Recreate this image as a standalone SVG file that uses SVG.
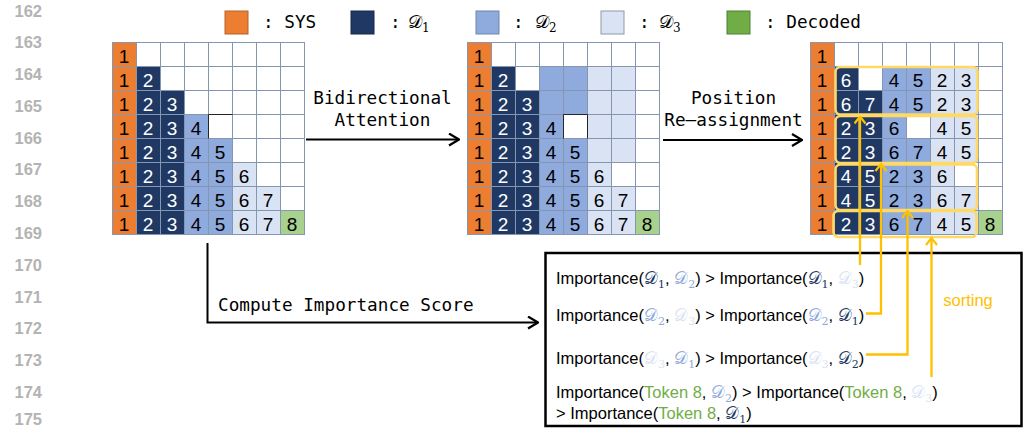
<svg xmlns="http://www.w3.org/2000/svg" xmlns:xlink="http://www.w3.org/1999/xlink" width="1027" height="429" viewBox="0 0 1027 429">
  <style>
    .ln { font-family: "Liberation Sans", Arial, sans-serif; font-weight: bold; font-size: 16.5px; fill: #b3b3b3; text-anchor: end; }
    .mono { font-family: "DejaVu Sans Mono", "Liberation Mono", monospace; font-size: 17.7px; fill: #000; }
    .cal { font-family: "DejaVu Serif", "DejaVu Sans", "Noto Sans", serif; }
    .sb { font-family: "DejaVu Serif", "Liberation Serif", serif; }
    .dg { font-family: "Liberation Sans", Arial, sans-serif; font-size: 19px; text-anchor: middle; fill: #000; }
    .tw { fill: #fff; }
    .o { fill: #ED7D31; }
    .n { fill: #203864; }
    .m { fill: #8FAADC; }
    .l { fill: #DAE3F3; }
    .g { fill: #A9D18E; }
    .gl { fill: none; stroke: #8596b0; stroke-width: 1; }
    .edge { fill: none; stroke: #262626; stroke-width: 1; }
    .grp { fill: none; stroke: #FFD966; stroke-width: 2.6; }
    .imp { font-family: "Liberation Sans", Arial, sans-serif; font-size: 16.5px; fill: #000; }
    .d1 { fill: #203864; }
    .d2 { fill: #8FAADC; }
    .d3 { fill: #DAE3F3; }
    .tok { fill: #70AD47; }
    .arr { fill: none; stroke: #000; stroke-width: 2; }
    .yarr { fill: none; stroke: #FFC000; stroke-width: 2.3; }
  </style>
  <defs>
    <marker id="ah" viewBox="0 0 12 14" refX="11" refY="7" markerWidth="12" markerHeight="14" markerUnits="userSpaceOnUse" orient="auto">
      <path d="M1,1 L11,7 L1,13" fill="none" stroke="#000" stroke-width="2.2"/>
    </marker>
    <marker id="yah" viewBox="0 0 9 13" refX="8" refY="6.5" markerWidth="9" markerHeight="13" markerUnits="userSpaceOnUse" orient="auto">
      <path d="M1,1 L8,6.5 L1,12" fill="none" stroke="#FFC000" stroke-width="2.2"/>
    </marker>
    <path id="gridlines" class="gl" d="M0 .5H193M0 24.5H193M0 48.5H193M0 72.5H193M0 96.5H193M0 120.5H193M0 144.5H193M0 168.5H193M0 192.5H193M.5 0V193M24.5 0V193M48.5 0V193M72.5 0V193M96.5 0V193M120.5 0V193M144.5 0V193M168.5 0V193M192.5 0V193"/>
  </defs>

  <rect width="1027" height="429" fill="#fff"/>

  <!-- line numbers -->
  <g id="line-numbers">
    <text class="ln" x="42" y="17">162</text>
    <text class="ln" x="42" y="48">163</text>
    <text class="ln" x="42" y="80">164</text>
    <text class="ln" x="42" y="112">165</text>
    <text class="ln" x="42" y="143.5">166</text>
    <text class="ln" x="42" y="175">167</text>
    <text class="ln" x="42" y="207">168</text>
    <text class="ln" x="42" y="239">169</text>
    <text class="ln" x="42" y="270.5">170</text>
    <text class="ln" x="42" y="302.5">171</text>
    <text class="ln" x="42" y="334">172</text>
    <text class="ln" x="42" y="366">173</text>
    <text class="ln" x="42" y="398">174</text>
    <text class="ln" x="42" y="425">175</text>
  </g>

  <!-- legend -->
  <g id="legend">
    <rect x="225" y="11" width="23" height="23" class="o" stroke="#B4642A" stroke-width="1"/>
    <text class="mono" x="263" y="28">: SYS</text>
    <rect x="351" y="11" width="23" height="23" class="n" stroke="#16284a" stroke-width="1"/>
    <text class="mono" x="390" y="28">:</text>
    <text class="cal" x="408" y="28" font-size="18">𝒟<tspan class="sb" font-size="12" dy="3.5">1</tspan></text>
    <rect x="476" y="11" width="23" height="23" class="m" stroke="#6f86b0" stroke-width="1"/>
    <text class="mono" x="513" y="28">:</text>
    <text class="cal" x="535" y="28" font-size="18">𝒟<tspan class="sb" font-size="12" dy="3.5">2</tspan></text>
    <rect x="601" y="11" width="23" height="23" class="l" stroke="#8f9aa8" stroke-width="1"/>
    <text class="mono" x="639" y="28">:</text>
    <text class="cal" x="659" y="28" font-size="18">𝒟<tspan class="sb" font-size="12" dy="3.5">3</tspan></text>
    <rect x="727" y="11" width="23" height="23" fill="#70AD47" stroke="#507e36" stroke-width="1"/>
    <text class="mono" x="765" y="28">: Decoded</text>
  </g>

  <!-- causal attention grid -->
  <g id="grid-causal" transform="translate(112,42)">
    <rect width="192" height="192" fill="#fff"/>
    <rect class="o" x="0" y="0" width="24" height="192"/>
    <rect class="n" x="24" y="24" width="24" height="168"/>
    <rect class="n" x="48" y="48" width="24" height="144"/>
    <rect class="m" x="72" y="72" width="24" height="120"/>
    <rect class="m" x="96" y="96" width="24" height="96"/>
    <rect class="l" x="120" y="120" width="24" height="72"/>
    <rect class="l" x="144" y="144" width="24" height="48"/>
    <rect class="g" x="168" y="168" width="24" height="24"/>
    <use xlink:href="#gridlines"/>
    <path class="edge" d="M96.5,96.5 V72.5 H120.5"/>
    <text class="dg" y="20.5"><tspan x="12">1</tspan></text>
    <text class="dg" y="44.5"><tspan x="12">1</tspan><tspan class="tw" x="36">2</tspan></text>
    <text class="dg" y="68.5"><tspan x="12">1</tspan><tspan class="tw" x="36 60">23</tspan></text>
    <text class="dg" y="92.5"><tspan x="12">1</tspan><tspan class="tw" x="36 60">23</tspan><tspan x="84">4</tspan></text>
    <text class="dg" y="116.5"><tspan x="12">1</tspan><tspan class="tw" x="36 60">23</tspan><tspan x="84 108">45</tspan></text>
    <text class="dg" y="140.5"><tspan x="12">1</tspan><tspan class="tw" x="36 60">23</tspan><tspan x="84 108 132">456</tspan></text>
    <text class="dg" y="164.5"><tspan x="12">1</tspan><tspan class="tw" x="36 60">23</tspan><tspan x="84 108 132 156">4567</tspan></text>
    <text class="dg" y="188.5"><tspan x="12">1</tspan><tspan class="tw" x="36 60">23</tspan><tspan x="84 108 132 156 180">45678</tspan></text>
  </g>

  <!-- bidirectional attention grid -->
  <g id="grid-bidirectional" transform="translate(467,42)">
    <rect width="192" height="192" fill="#fff"/>
    <rect class="o" x="0" y="0" width="24" height="192"/>
    <rect class="n" x="24" y="24" width="24" height="168"/>
    <rect class="n" x="48" y="48" width="24" height="144"/>
    <rect class="m" x="72" y="24" width="24" height="168"/>
    <rect class="m" x="96" y="24" width="24" height="48"/>
    <rect class="m" x="96" y="96" width="24" height="96"/>
    <rect class="l" x="120" y="24" width="24" height="168"/>
    <rect class="l" x="144" y="24" width="24" height="96"/>
    <rect class="l" x="144" y="144" width="24" height="48"/>
    <rect class="g" x="168" y="168" width="24" height="24"/>
    <use xlink:href="#gridlines"/>
    <path class="edge" d="M96.5,96.5 V72.5 H120.5 V96.5"/>
    <text class="dg" y="20.5"><tspan x="12">1</tspan></text>
    <text class="dg" y="44.5"><tspan x="12">1</tspan><tspan class="tw" x="36">2</tspan></text>
    <text class="dg" y="68.5"><tspan x="12">1</tspan><tspan class="tw" x="36 60">23</tspan></text>
    <text class="dg" y="92.5"><tspan x="12">1</tspan><tspan class="tw" x="36 60">23</tspan><tspan x="84">4</tspan></text>
    <text class="dg" y="116.5"><tspan x="12">1</tspan><tspan class="tw" x="36 60">23</tspan><tspan x="84 108">45</tspan></text>
    <text class="dg" y="140.5"><tspan x="12">1</tspan><tspan class="tw" x="36 60">23</tspan><tspan x="84 108 132">456</tspan></text>
    <text class="dg" y="164.5"><tspan x="12">1</tspan><tspan class="tw" x="36 60">23</tspan><tspan x="84 108 132 156">4567</tspan></text>
    <text class="dg" y="188.5"><tspan x="12">1</tspan><tspan class="tw" x="36 60">23</tspan><tspan x="84 108 132 156 180">45678</tspan></text>
  </g>

  <!-- re-assigned positions grid -->
  <g id="grid-reassigned" transform="translate(810,42)">
    <rect width="192" height="192" fill="#fff"/>
    <rect class="o" x="0" y="0" width="24" height="192"/>
    <rect class="n" x="24" y="24" width="24" height="168"/>
    <rect class="n" x="48" y="48" width="24" height="144"/>
    <rect class="m" x="72" y="24" width="24" height="168"/>
    <rect class="m" x="96" y="24" width="24" height="48"/>
    <rect class="m" x="96" y="96" width="24" height="96"/>
    <rect class="l" x="120" y="24" width="24" height="168"/>
    <rect class="l" x="144" y="24" width="24" height="96"/>
    <rect class="l" x="144" y="144" width="24" height="48"/>
    <rect class="g" x="168" y="168" width="24" height="24"/>
    <use xlink:href="#gridlines"/>
    <text class="dg" y="20.5"><tspan x="12">1</tspan></text>
    <text class="dg" y="44.5"><tspan x="12">1</tspan><tspan class="tw" x="36">6</tspan><tspan x="84 108 132 156">4523</tspan></text>
    <text class="dg" y="68.5"><tspan x="12">1</tspan><tspan class="tw" x="36 60">67</tspan><tspan x="84 108 132 156">4523</tspan></text>
    <text class="dg" y="92.5"><tspan x="12">1</tspan><tspan class="tw" x="36 60">23</tspan><tspan x="84 132 156">645</tspan></text>
    <text class="dg" y="116.5"><tspan x="12">1</tspan><tspan class="tw" x="36 60">23</tspan><tspan x="84 108 132 156">6745</tspan></text>
    <text class="dg" y="140.5"><tspan x="12">1</tspan><tspan class="tw" x="36 60">45</tspan><tspan x="84 108 132">236</tspan></text>
    <text class="dg" y="164.5"><tspan x="12">1</tspan><tspan class="tw" x="36 60">45</tspan><tspan x="84 108 132 156">2367</tspan></text>
    <text class="dg" y="188.5"><tspan x="12">1</tspan><tspan class="tw" x="36 60">23</tspan><tspan x="84 108 132 156 180">67458</tspan></text>
    <!-- sorted groups -->
    <rect class="grp" x="25.5" y="25" width="142" height="47.5" rx="5"/>
    <rect class="grp" x="25.5" y="74" width="141.5" height="47" rx="5"/>
    <rect class="grp" x="25.5" y="122.5" width="141.5" height="45.5" rx="5"/>
    <rect class="grp" x="23.5" y="169" width="143" height="26" rx="5"/>
  </g>

  <!-- importance score box -->
  <g id="importance-box">
    <rect x="545.5" y="253" width="476" height="173" fill="#fff" stroke="#000" stroke-width="2.5"/>
    <text class="imp" x="556" y="284">Importance(<tspan class="cal d1">𝒟</tspan><tspan class="sb d1" font-size="11" dy="3.5">1</tspan><tspan dy="-3.5">, </tspan><tspan class="cal d2">𝒟</tspan><tspan class="sb d2" font-size="11" dy="3.5">2</tspan><tspan dy="-3.5">) &gt; Importance(</tspan><tspan class="cal d1">𝒟</tspan><tspan class="sb d1" font-size="11" dy="3.5">1</tspan><tspan dy="-3.5">, </tspan><tspan class="cal d3">𝒟</tspan><tspan class="sb d3" font-size="11" dy="3.5">3</tspan><tspan dy="-3.5">)</tspan></text>
    <text class="imp" x="556" y="321">Importance(<tspan class="cal d2">𝒟</tspan><tspan class="sb d2" font-size="11" dy="3.5">2</tspan><tspan dy="-3.5">, </tspan><tspan class="cal d3">𝒟</tspan><tspan class="sb d3" font-size="11" dy="3.5">3</tspan><tspan dy="-3.5">) &gt; Importance(</tspan><tspan class="cal d2">𝒟</tspan><tspan class="sb d2" font-size="11" dy="3.5">2</tspan><tspan dy="-3.5">, </tspan><tspan class="cal d1">𝒟</tspan><tspan class="sb d1" font-size="11" dy="3.5">1</tspan><tspan dy="-3.5">)</tspan></text>
    <text class="imp" x="556" y="364">Importance(<tspan class="cal d3">𝒟</tspan><tspan class="sb d3" font-size="11" dy="3.5">3</tspan><tspan dy="-3.5">, </tspan><tspan class="cal d2">𝒟</tspan><tspan class="sb d2" font-size="11" dy="3.5">1</tspan><tspan dy="-3.5">) &gt; Importance(</tspan><tspan class="cal d3">𝒟</tspan><tspan class="sb d3" font-size="11" dy="3.5">3</tspan><tspan dy="-3.5">, </tspan><tspan class="cal d1">𝒟</tspan><tspan class="sb d1" font-size="11" dy="3.5">2</tspan><tspan dy="-3.5">)</tspan></text>
    <text class="imp" x="556" y="398">Importance(<tspan class="tok">Token 8</tspan>, <tspan class="cal d2">𝒟</tspan><tspan class="sb d2" font-size="11" dy="3.5">2</tspan><tspan dy="-3.5">) &gt; Importance(</tspan><tspan class="tok">Token 8</tspan>, <tspan class="cal d3">𝒟</tspan><tspan class="sb d3" font-size="11" dy="3.5">3</tspan><tspan dy="-3.5">)</tspan></text>
    <text class="imp" x="556" y="419">&gt; Importance(<tspan class="tok">Token 8</tspan>, <tspan class="cal d1">𝒟</tspan><tspan class="sb d1" font-size="11" dy="3.5">1</tspan><tspan dy="-3.5">)</tspan></text>
  </g>

  <!-- connectors -->
  <g id="connectors">
    <path class="arr" d="M306,139.5 H459" marker-end="url(#ah)"/>
    <text class="mono" x="382.5" y="104" text-anchor="middle">Bidirectional</text>
    <text class="mono" x="382.5" y="126" text-anchor="middle">Attention</text>

    <path class="arr" d="M663,140 H802" marker-end="url(#ah)"/>
    <text class="mono" x="733.5" y="104" text-anchor="middle">Position</text>
    <text class="mono" x="733.5" y="126" text-anchor="middle">Re–assignment</text>

    <path class="arr" d="M207.5,243 V322.5 H538" marker-end="url(#ah)"/>
    <text class="mono" x="218" y="311">Compute Importance Score</text>

    <path class="yarr" d="M860,265 V116.5" marker-end="url(#yah)"/>
    <path class="yarr" d="M866,313.5 H881 V164" marker-end="url(#yah)"/>
    <path class="yarr" d="M866,354.5 H907.5 V211" marker-end="url(#yah)"/>
    <path class="yarr" d="M931.5,377 V238" marker-end="url(#yah)"/>
    <text x="968" y="306" text-anchor="middle" font-family="Liberation Sans, Arial, sans-serif" font-size="16.5" fill="#FFC000">sorting</text>
  </g>
</svg>
